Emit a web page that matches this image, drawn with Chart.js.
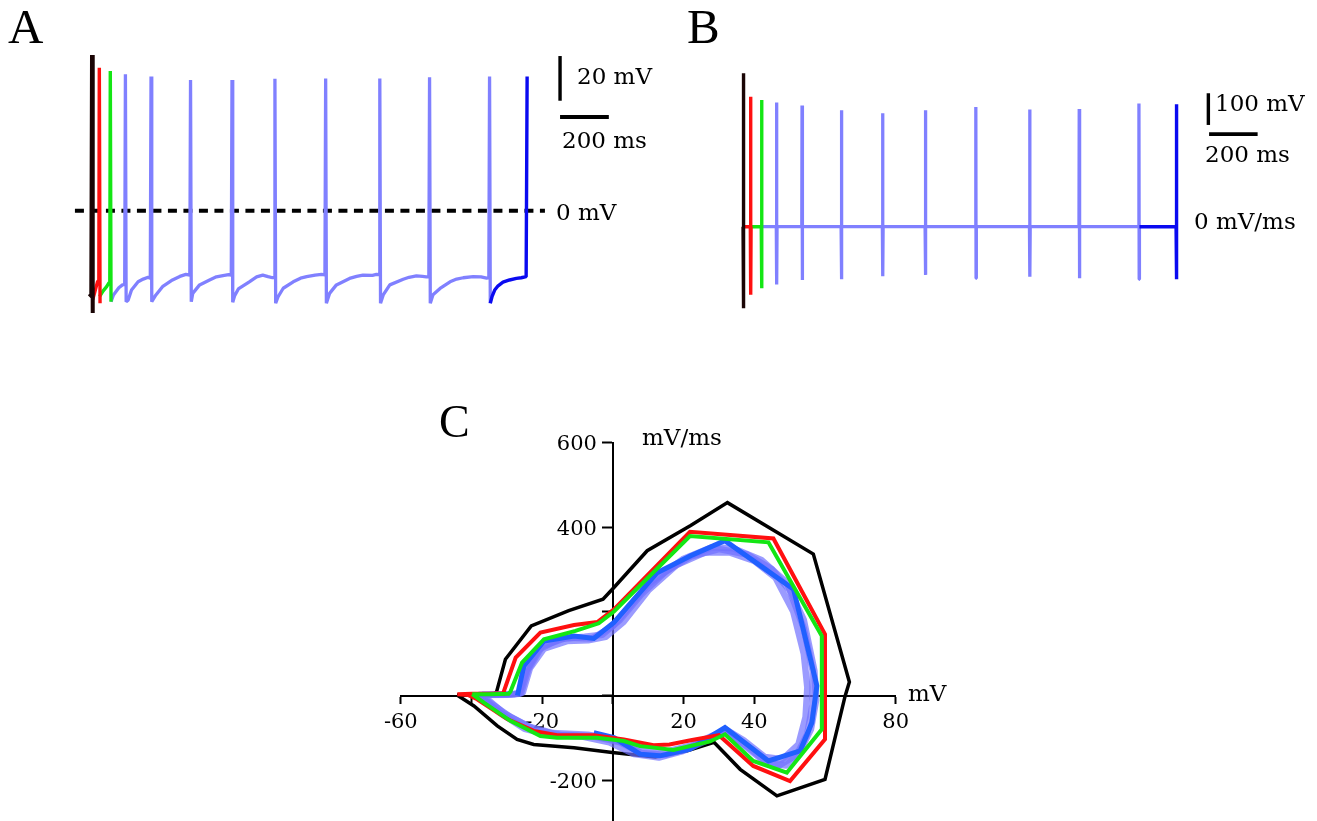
<!DOCTYPE html>
<html>
<head>
<meta charset="utf-8">
<script src="https://cdn.jsdelivr.net/npm/chart.js@4.4.1/dist/chart.umd.min.js"></script>
<style>
  html, body { margin: 0; padding: 0; background: #fff; width: 1317px; height: 821px; overflow: hidden; }
  canvas { position: absolute; }
  #chartA { left: 0; top: 0; }
  #chartB { left: 660px; top: 0; }
  #chartC { left: 360px; top: 400px; }
</style>
</head>
<body>
<canvas id="chartA" width="660" height="330"></canvas>
<canvas id="chartB" width="657" height="330"></canvas>
<canvas id="chartC" width="620" height="440"></canvas>
<script>
// ---- Panel A: membrane potential, [time ms, mV] ----
const aBlack = [[-11, -38.5], [-3, -37.6], [0, 69.7], [3, -45.8]];
const aRed = [[3, -39.8], [12, -36.2], [23, -31.6], [28, -31.4], [30, 64], [33, -41.4]];
const aGreen = [[31, -38.4], [45, -36], [60, -34], [70, -32.2], [73, -32], [75, 62.5], [78, -40.7]];
const aLightBlue = [
  [78, -40.7], [88, -37.7], [110, -34.5], [125, -33.2], [134, -33], [137, 61], [140, -40.7],
  [148, -40], [162, -35.5], [189, -31.8], [210, -30.6], [230, -29.8], [239, -30.2], [242, 60], [245, -40.7],
  [262, -37.7], [289, -34], [330, -31], [360, -29.4], [385, -28.5], [401, -28.8], [404, 58.5], [407, -40.7],
  [413, -37], [441, -33.2], [482, -31], [510, -29.6], [537, -29], [560, -28.6], [571, -28.8], [574, 58.5], [577, -41],
  [585, -38], [600, -35], [645, -31.8], [675, -29.6], [700, -28.8], [722, -29.5], [740, -30], [747, -29.8], [750, 59], [753, -41.4],
  [763, -38.5], [784, -34.7], [825, -31.8], [855, -30.2], [880, -29.5], [915, -28.8], [941, -28.5], [955, -28.7], [958, 59.2], [961, -41.4],
  [974, -37], [1002, -33.2], [1056, -30.3], [1085, -29.4], [1111, -28.8], [1150, -28.9], [1166, -28.5], [1177, -28.6], [1180, 59.2], [1183, -41.4],
  [1194, -37.7], [1221, -33.2], [1276, -30.7], [1300, -29.8], [1330, -29.2], [1355, -29.4], [1371, -29.6], [1381, -29.5], [1384, 59.7], [1387, -41.4],
  [1398, -37.6], [1427, -34.8], [1468, -31.8], [1495, -30.6], [1522, -30], [1563, -29.5], [1595, -29.6], [1618, -30.2], [1627, -30], [1630, 60], [1633, -41.4]
];
const aDarkBlue = [[1633, -41.4], [1640, -38.5], [1651, -35.5], [1665, -33.6], [1685, -32], [1712, -31], [1740, -30.3], [1760, -30], [1780, -29.5], [1784, 60]];
const aZeroLine = [[-70, 0], [1857, 0]];
const aBarV = [[1919, 49.2], [1919, 69.2]];   // 20 mV
const aBarH = [[1919, 41.9], [2119, 41.9]];   // 200 ms

// ---- Panel B: dV/dt, spikes at the same times ----
const spikeTimes = [0, 30, 75, 137, 242, 404, 574, 750, 958, 1180, 1384, 1630, 1784];
const peakB = [484, 410, 400, 392, 382, 367, 358, 367, 378, 370, 371, 389, 386];
const troughB = [-257, -215, -194, -182, -168, -166, -156, -152, -163, -158, -163, -166, -166];
const bBarV = [[1916, 321], [1916, 421]];     // 100 mV/ms
const bBarH = [[1919, 292], [2119, 292]];     // 200 ms

// ---- Panel C: phase plot, [mV, mV/ms] ----
const cBlack = [
  [-44.1, 2], [-38, 3], [-33.5, 5], [-32.9, 10], [-30.4, 87], [-23.1, 166], [-12.5, 202], [-2.8, 229], [0.3, 257],
  [9.7, 344], [22, 404], [32.4, 458], [56.7, 336], [66.9, 33], [65.7, 0], [60, -198], [46.4, -237], [36, -174],
  [28.6, -110], [21, -130], [12, -145], [-0.2, -134], [-11, -123], [-22.4, -115], [-27.1, -103], [-32.7, -71], [-39.3, -24], [-44.1, 2]
];
const cRed = [
  [-44, 4], [-39.8, 5], [-35, 5], [-31, 6], [-30.8, 12], [-27.5, 91], [-20.5, 150], [-11, 168], [-4.4, 175], [0.3, 205],
  [21.8, 389], [45.4, 373], [60, 146], [60, -103], [50.1, -202], [39.7, -166], [30, -93], [22, -105], [16, -115],
  [11.5, -117], [3.1, -103], [-5.4, -93], [-15.8, -93], [-22.4, -83], [-29.9, -55], [-38.4, -8], [-41, 2], [-44, 4]
];
const cGreen = [
  [-39.8, 4], [-35, 4], [-29.5, 5], [-29, 10], [-25.7, 79], [-19.5, 134], [-10.6, 154], [-4, 172], [0.3, 200],
  [21.8, 379], [44, 364], [59.1, 142], [59.1, -79], [49.2, -182], [39.7, -154], [31.7, -91], [27.5, -108], [17.1, -128],
  [11, -122], [7.7, -119], [3.1, -107], [-4.4, -99], [-15.8, -99], [-20.5, -95], [-29, -59], [-36.5, -16], [-39.8, 4]
];
const cBlue = [
  [-27, 1], [-25.2, 71], [-19.5, 130], [-11, 142], [-5.4, 136], [0.3, 174], [12.5, 292], [22, 332], [31.7, 368],
  [51.1, 253], [57.7, 24], [56.3, -63], [53, -130], [44, -154], [31.7, -75], [21.8, -126], [13.3, -142], [7.7, -138],
  [0.3, -99], [-5.4, -87]
];
const cLightBlue1 = [
  [-38, 2], [-30, 3], [-26.5, 5], [-24.5, 60], [-21, 110], [-15, 135], [-8, 140], [-3, 145], [2, 180], [8, 240], [15, 295],
  [22, 330], [30, 348], [38, 335], [45, 300], [50, 250], [54, 160], [56.5, 60], [56.5, -20], [55, -90], [52, -140], [47, -165],
  [42, -150], [36, -110], [31.5, -82], [27, -100], [21, -125], [15, -140], [8, -135], [2, -110], [-6, -95], [-15, -92],
  [-22, -80], [-29, -50], [-35, -15], [-38, 2]
];
const cLightBlue2 = [
  [-37, 3], [-28, 4], [-25.5, 8], [-23.5, 65], [-19.5, 112], [-13, 130], [-7, 132], [-2, 140], [3, 175], [10, 250], [18, 310],
  [26, 340], [33, 340], [40, 320], [46, 280], [51, 200], [54, 100], [55, 20], [54.5, -50], [52.5, -115], [48, -150], [43, -145],
  [37, -105], [32, -80], [28, -95], [22, -118], [15, -132], [8, -128], [1, -105], [-7, -92], [-17, -88], [-24, -72], [-31, -40], [-37, 3]
];
const cLightBlue3 = [
  [-38, 2], [-29, 4], [-26, 6], [-24, 62], [-20, 118], [-13, 138], [-6, 136], [0, 165], [10, 265], [20, 325], [28, 352],
  [34, 350], [42, 322], [49, 270], [54, 180], [57, 60], [57.5, -10], [56, -80], [53, -130], [49, -165], [44, -160], [38, -120],
  [32, -84], [27, -104], [20, -130], [13, -146], [6, -138], [-1, -110], [-9, -96], [-18, -92], [-25, -78], [-32, -40], [-38, 2]
];
const cTicksX = [-60, -40, -20, 0, 20, 40, 60, 80];
const cTicksY = [-200, 0, 200, 400, 600];
const cLabelsX = [-60, -20, 20, 40, 80];
const cLabelsY = [600, 400, -200];

const BLACK = '#1a0505';
const RED = '#ff1010';
const GREEN = '#14e614';
const LIGHT = '#8080ff';
const DARK = '#0a0af0';
const C_LIGHT = 'rgba(112,112,255,0.7)';
const C_BLUE = '#2060ff';

function pts(arr) {
  return arr.map(p => ({ x: p[0], y: p[1] }));
}

function line(data, color, width, extra) {
  return Object.assign({
    data: pts(data),
    showLine: true,
    borderColor: color,
    backgroundColor: color,
    borderWidth: width,
    pointRadius: 0,
    tension: 0,
    fill: false,
    borderJoinStyle: 'bevel'
  }, extra || {});
}

// page text drawn on each canvas, given in page coordinates
function textPlugin(items, left, top) {
  return {
    id: 'pageText',
    afterDraw(chart) {
      const ctx = chart.ctx;
      items.forEach(it => {
        ctx.save();
        ctx.font = it.font;
        ctx.fillStyle = '#000';
        ctx.textBaseline = 'alphabetic';
        ctx.fillText(it.text, it.x - left, it.y - top);
        ctx.restore();
      });
    }
  };
}

const LETTER = '49px "Liberation Serif"';
const LABEL = '23px "DejaVu Serif"';

function traceOptions(xmin, xmax, ymin, ymax) {
  return {
    responsive: false,
    animation: false,
    layout: { padding: 0 },
    plugins: { legend: { display: false }, tooltip: { enabled: false } },
    scales: {
      x: { type: 'linear', display: false, min: xmin, max: xmax },
      y: { type: 'linear', display: false, min: ymin, max: ymax }
    }
  };
}

// Panel A
new Chart(document.getElementById('chartA'), {
  type: 'scatter',
  data: {
    datasets: [
      line(aDarkBlue, DARK, 3.4),
      line(aBlack, BLACK, 4),
      line(aRed, RED, 3.4),
      line(aGreen, GREEN, 3.4),
      line(aLightBlue, LIGHT, 3.3),
      line(aZeroLine, '#000', 4, { borderDash: [9, 6.5] }),
      line(aBarV, '#000', 3.4),
      line(aBarH, '#000', 4)
    ]
  },
  options: traceOptions(-377.2, 2328.8, -53.38, 94.27),
  plugins: [textPlugin([
    { text: 'A', x: 8, y: 43, font: LETTER },
    { text: '20 mV', x: 577, y: 84, font: LABEL },
    { text: '200 ms', x: 562, y: 148, font: LABEL },
    { text: '0 mV', x: 556, y: 220, font: LABEL }
  ], 0, 0)]
});

// Panel B: build each colour's path from the spike arrays
function spikePath(from, to, endAtPeak) {
  const out = [];
  for (let i = from; i <= to; i++) {
    const t = spikeTimes[i];
    out.push([t - 1, 0], [t, peakB[i]]);
    if (!(endAtPeak && i === to)) out.push([t + 1, troughB[i]], [t + 2, 0]);
  }
  return out;
}
const bBlack = spikePath(0, 0);
const bRed = [[2, 0]].concat(spikePath(1, 1));
const bGreen = [[32, 0]].concat(spikePath(2, 2));
const bLightBlue = [[77, 0]].concat(spikePath(3, 11));
const bDarkBlue = [[1632, 0]].concat(spikePath(12, 12));

new Chart(document.getElementById('chartB'), {
  type: 'scatter',
  data: {
    datasets: [
      line(bDarkBlue, DARK, 3.4),
      line(bBlack, BLACK, 3.4),
      line(bRed, RED, 3.4),
      line(bGreen, GREEN, 3.4),
      line(bLightBlue, LIGHT, 3.3),
      line(bBarV, '#000', 3.4),
      line(bBarH, '#000', 3.6)
    ]
  },
  options: traceOptions(-343.2, 2363.6, -325.9, 715.2),
  plugins: [textPlugin([
    { text: 'B', x: 687, y: 43, font: LETTER },
    { text: '100 mV', x: 1215, y: 111, font: LABEL },
    { text: '200 ms', x: 1205, y: 162, font: LABEL },
    { text: '0 mV/ms', x: 1194, y: 229, font: LABEL }
  ], 660, 0)]
});

// y tick labels of the centred axis, placed through the chart's scales
const yLabelPlugin = {
  id: 'yLabels',
  afterDraw(chart) {
    const ctx = chart.ctx;
    const xs = chart.scales.x, ys = chart.scales.y;
    const x0 = xs.getPixelForValue(0) - 16;
    ctx.save();
    ctx.font = '21px "DejaVu Serif"';
    ctx.fillStyle = '#000';
    ctx.textAlign = 'right';
    ctx.textBaseline = 'alphabetic';
    cLabelsY.forEach(v => ctx.fillText(String(v), x0, ys.getPixelForValue(v) + 7.5));
    ctx.restore();
  }
};

// Panel C
const tickFont = { family: 'DejaVu Serif', size: 21 };
new Chart(document.getElementById('chartC'), {
  type: 'scatter',
  data: {
    datasets: [
      line(cGreen, GREEN, 4, { borderJoinStyle: 'miter' }),
      line(cRed, RED, 4, { borderJoinStyle: 'miter' }),
      line(cBlue, C_BLUE, 5, { borderJoinStyle: 'miter' }),
      line(cLightBlue1, C_LIGHT, 6.5, { borderJoinStyle: 'round' }),
      line(cLightBlue2, C_LIGHT, 6.5, { borderJoinStyle: 'round' }),
      line(cLightBlue3, C_LIGHT, 6.5, { borderJoinStyle: 'round' }),
      line(cBlack, '#000', 3.5, { borderJoinStyle: 'miter' })
    ]
  },
  options: {
    responsive: false,
    animation: false,
    layout: { padding: { left: 40.8, right: 84.3, top: 42.7, bottom: 17.5 } },
    plugins: { legend: { display: false }, tooltip: { enabled: false } },
    scales: {
      x: {
        type: 'linear', position: { y: 0 }, min: -60, max: 80,
        afterBuildTicks: axis => { axis.ticks = cTicksX.map(v => ({ value: v })); },
        border: { display: true, color: '#000', width: 2 },
        grid: { display: true, drawOnChartArea: false, drawTicks: true, tickLength: 7, tickColor: '#000', tickWidth: 2 },
        ticks: {
          color: '#000', font: tickFont, padding: 7, autoSkip: false, maxRotation: 0,
          callback: v => (cLabelsX.includes(v) ? String(v) : '')
        }
      },
      y: {
        type: 'linear', position: { x: 0 }, min: -300, max: 600,
        afterBuildTicks: axis => { axis.ticks = cTicksY.map(v => ({ value: v })); },
        border: { display: true, color: '#000', width: 2 },
        grid: { display: true, drawOnChartArea: false, drawTicks: true, tickLength: 10, tickColor: '#000', tickWidth: 2 },
        ticks: { color: '#000', font: tickFont, autoSkip: false, callback: () => '' }
      }
    }
  },
  plugins: [yLabelPlugin, textPlugin([
    { text: 'C', x: 439, y: 437, font: '46px "Liberation Serif"' },
    { text: 'mV/ms', x: 642, y: 445, font: LABEL },
    { text: 'mV', x: 908, y: 701, font: LABEL }
  ], 360, 400)]
});
</script>
</body>
</html>
